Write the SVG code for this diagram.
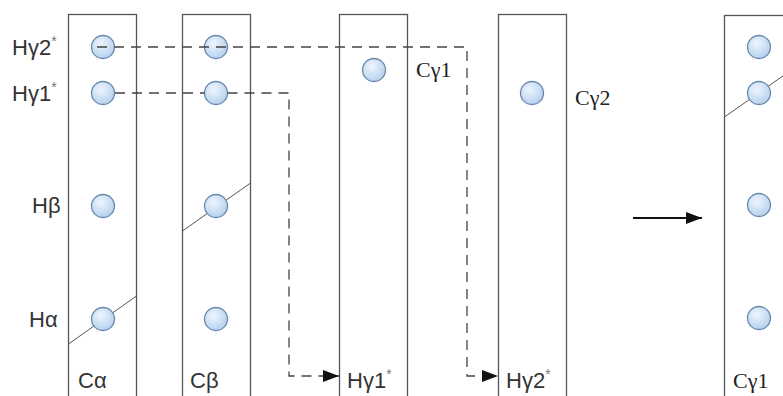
<svg xmlns="http://www.w3.org/2000/svg" width="783" height="396" viewBox="0 0 783 396">
<style>
.box{fill:none;stroke:#555;stroke-width:1.3}
.at{fill:url(#g);stroke:#6a88ab;stroke-width:1.3}
.diag{fill:none;stroke:#555;stroke-width:1}
.dash{fill:none;stroke:#444;stroke-width:1.3;stroke-dasharray:10 7}
.sans{font-family:"Liberation Sans",Arial,sans-serif;font-size:22px;fill:#333}
.serif{font-family:"Liberation Serif","Times New Roman",serif;font-size:22px;fill:#222}
.sup{font-size:14px;fill:#777}
</style>
<defs>
<radialGradient id="g" cx="0.4" cy="0.35" r="0.7">
<stop offset="0" stop-color="#eef5fd"/>
<stop offset="1" stop-color="#b3cfee"/>
</radialGradient>
<marker id="ah" markerWidth="16" markerHeight="12" refX="16" refY="6" orient="auto" markerUnits="userSpaceOnUse">
<path d="M0,0 L16,6 L0,12 Z" fill="#111"/>
</marker>
</defs>
<rect width="783" height="396" fill="#fff"/>
<g id="labels-left">
<text class="sans" x="12" y="55">Hγ2<tspan class="sup" dy="-9">*</tspan></text>
<text class="sans" x="12" y="101">Hγ1<tspan class="sup" dy="-9">*</tspan></text>
<text class="sans" x="32" y="213">Hβ</text>
<text class="sans" x="29" y="327">Hα</text>
</g>
<g id="box-ca">
<rect class="box" x="68.5" y="14.5" width="68" height="400"/>
<line class="diag" x1="68.5" y1="344" x2="136.5" y2="296"/>
<circle class="at" cx="103" cy="47" r="11.5"/>
<circle class="at" cx="103" cy="93" r="11.5"/>
<circle class="at" cx="103" cy="206" r="11.5"/>
<circle class="at" cx="103" cy="319" r="11.5"/>
<text class="sans" x="78" y="388">Cα</text>
</g>
<g id="box-cb">
<rect class="box" x="182.5" y="14.5" width="68" height="400"/>
<line class="diag" x1="182.5" y1="231" x2="250.5" y2="183"/>
<circle class="at" cx="216" cy="47" r="11.5"/>
<circle class="at" cx="216" cy="93" r="11.5"/>
<circle class="at" cx="216" cy="206" r="11.5"/>
<circle class="at" cx="216" cy="319" r="11.5"/>
<text class="sans" x="190" y="388">Cβ</text>
</g>
<g id="box-cg1">
<rect class="box" x="339.5" y="14.5" width="68" height="400"/>
<circle class="at" cx="374" cy="70" r="11.5"/>
<text class="serif" x="416" y="77">Cγ1</text>
<text class="sans" x="347" y="388">Hγ1<tspan class="sup" dy="-9">*</tspan></text>
</g>
<g id="box-cg2">
<rect class="box" x="498.5" y="14.5" width="68" height="400"/>
<circle class="at" cx="532" cy="93" r="11.5"/>
<text class="serif" x="575" y="105">Cγ2</text>
<text class="sans" x="506" y="388">Hγ2<tspan class="sup" dy="-9">*</tspan></text>
</g>
<g id="box-result">
<rect class="box" x="724.5" y="15.5" width="100" height="400"/>
<line class="diag" x1="724.5" y1="117" x2="790" y2="71"/>
<circle class="at" cx="759" cy="47" r="11.5"/>
<circle class="at" cx="759" cy="93" r="11.5"/>
<circle class="at" cx="759" cy="205" r="11.5"/>
<circle class="at" cx="759" cy="318" r="11.5"/>
<text class="serif" x="733" y="388">Cγ1</text>
</g>
<g id="connectors">
<path class="dash" d="M97,47 H467 V376 H498" marker-end="url(#ah)"/>
<path class="dash" d="M115,93 H204.5 M227.5,93 H289 V376 H339" marker-end="url(#ah)"/>
<line x1="633" y1="218" x2="702" y2="218" stroke="#111" stroke-width="2" marker-end="url(#ah)"/>
</g>
</svg>
